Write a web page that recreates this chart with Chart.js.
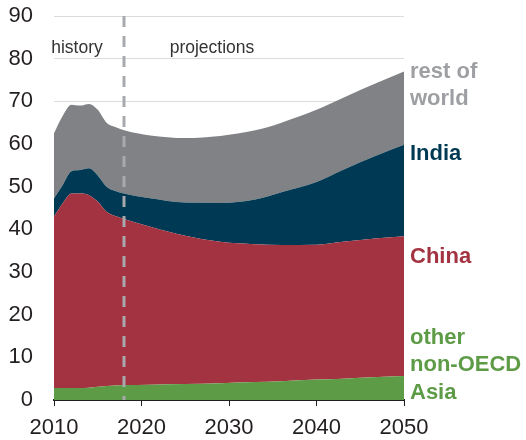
<!DOCTYPE html>
<html lang="en">
<head>
    <meta charset="UTF-8">
    <title>Energy consumption - non-OECD Asia</title>
    <script src="https://cdn.jsdelivr.net/npm/chart.js"></script>
    <style>
        body { margin: 0; background: #fff; }
        #wrap { width: 526px; height: 440px; }
    </style>
</head>
<body>
    <div id="wrap"><canvas id="chart" width="526" height="440"></canvas></div>

    <script>
        // years (history to 2018, then projections)
        const years = [2010, 2011, 2012, 2013, 2014, 2015, 2016, 2017, 2018,
                       2021, 2025, 2029, 2033, 2036, 2040, 2043, 2047, 2050];

        // series values (each band's own thickness, stacked in the chart)
        const otherAsia = [2.8, 2.8, 2.8, 2.8, 2.9, 3.1, 3.3, 3.4, 3.5,
                           3.6, 3.75, 3.95, 4.2, 4.4, 4.8, 5.0, 5.4, 5.6];
        const china     = [40.2, 43.3, 45.6, 45.6, 45.1, 43.4, 40.8, 39.7, 38.9,
                           37.0, 34.75, 33.15, 32.3, 31.9, 31.6, 32.1, 32.5, 32.8];
        const india     = [4.2, 4.3, 5.2, 5.5, 6.3, 6.1, 5.9, 5.9, 6.0,
                           6.7, 7.8, 9.1, 10.5, 12.4, 14.7, 16.8, 19.5, 21.4];
        const restWorld = [15.3, 16.2, 15.6, 15.1, 15.1, 15.4, 15.0, 15.0, 14.8,
                           14.7, 15.1, 15.7, 16.2, 16.3, 16.9, 16.9, 17.0, 17.2];

        const yTicks = [0, 10, 20, 30, 40, 50, 60, 70, 80, 90];
        const xTicks = [2010, 2020, 2030, 2040, 2050];
        const dividerYear = 2018;

        const FONT = "'Liberation Sans', Arial, sans-serif";

        function points(values) {
            return years.map((y, i) => ({ x: y, y: values[i] }));
        }

        function band(label, values, color, fill) {
            return {
                label: label,
                data: points(values),
                backgroundColor: color,
                borderColor: color,
                borderWidth: 0,
                pointRadius: 0,
                fill: fill,
                cubicInterpolationMode: "monotone"
            };
        }

        // dashed divider, section titles and end labels
        const annotations = {
            id: "annotations",
            afterDatasetsDraw(chart) {
                const { ctx, chartArea, scales } = chart;
                const x = scales.x.getPixelForValue(dividerYear);
                ctx.save();
                ctx.strokeStyle = "#a7a9ac";
                ctx.lineWidth = 3;
                ctx.setLineDash([11, 9]);
                ctx.beginPath();
                ctx.moveTo(x, chartArea.top);
                ctx.lineTo(x, chartArea.bottom);
                ctx.stroke();
                ctx.restore();
            },
            afterDraw(chart) {
                const { ctx } = chart;
                ctx.save();
                ctx.textAlign = "center";
                ctx.textBaseline = "alphabetic";
                ctx.fillStyle = "#333333";
                ctx.font = "17.5px " + FONT;
                ctx.fillText("history", 77, 53);
                ctx.fillText("projections", 212, 53);

                ctx.textAlign = "left";
                ctx.font = "bold 22px " + FONT;
                const labels = [
                    { lines: ["rest of", "world"], y: 78, color: "#9d9fa2" },
                    { lines: ["India"], y: 160, color: "#003953" },
                    { lines: ["China"], y: 263, color: "#a33340" },
                    { lines: ["other", "non-OECD", "Asia"], y: 344, color: "#5d9b46" }
                ];
                labels.forEach(l => {
                    ctx.fillStyle = l.color;
                    l.lines.forEach((t, i) => ctx.fillText(t, 410, l.y + i * 27.3));
                });
                ctx.restore();
            }
        };

        new Chart(document.getElementById("chart"), {
            type: "line",
            data: {
                datasets: [
                    band("other non-OECD Asia", otherAsia, "#5d9b46", "origin"),
                    band("China", china, "#a33340", "-1"),
                    band("India", india, "#003953", "-1"),
                    band("rest of world", restWorld, "#808285", "-1")
                ]
            },
            options: {
                responsive: false,
                animation: false,
                layout: { padding: { left: 0, right: 122, top: 16, bottom: 0 } },
                plugins: { legend: { display: false }, tooltip: { enabled: false } },
                scales: {
                    x: {
                        type: "linear",
                        min: 2010,
                        max: 2050,
                        afterFit: s => { s.height = 40; s.paddingLeft = 0; s.paddingRight = 0; },
                        afterBuildTicks: s => { s.ticks = xTicks.map(v => ({ value: v })); },
                        grid: { drawOnChartArea: false, drawTicks: true, tickLength: 6, color: "#231f20", tickWidth: 1 },
                        border: { display: true, color: "#231f20", width: 2 },
                        ticks: {
                            color: "#231f20",
                            font: { family: FONT, size: 22 },
                            padding: 9,
                            maxRotation: 0,
                            callback: v => String(v)
                        }
                    },
                    y: {
                        stacked: true,
                        min: 0,
                        max: 90,
                        afterFit: s => { s.width = 54; s.paddingTop = 0; s.paddingBottom = 0; },
                        afterBuildTicks: s => { s.ticks = yTicks.map(v => ({ value: v })); },
                        grid: { color: "#dcdcdc", lineWidth: 1, drawTicks: false },
                        border: { display: false },
                        ticks: {
                            color: "#231f20",
                            font: { family: FONT, size: 22 },
                            padding: 21
                        }
                    }
                }
            },
            plugins: [annotations]
        });
    </script>
</body>
</html>
